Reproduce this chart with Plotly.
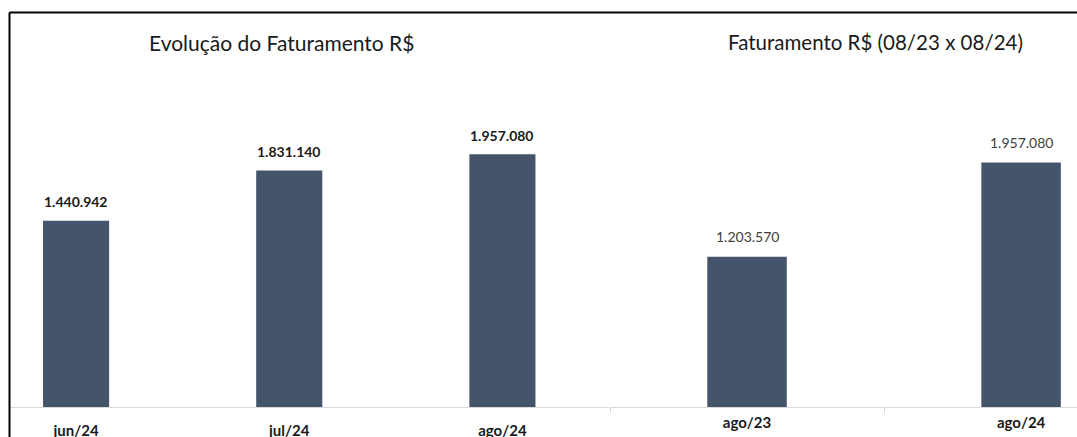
import plotly.graph_objects as go

# ---- data ----
left_categories = ["jun/24", "jul/24", "ago/24"]
left_values = [1440942, 1831140, 1957080]
right_categories = ["ago/23", "ago/24"]
right_values = [1203570, 1957080]
left_title = "Evolução do Faturamento R$"
right_title = "Faturamento R$ (08/23 x 08/24)"

W, H = 1077, 437
FONT = "Lato, Liberation Sans, Arial, sans-serif"
BAR = "#44546A"

def px(x):
    return x / W

def py(y):
    return (H - y) / H

fig = go.Figure()
fig.add_trace(go.Bar(x=left_categories, y=left_values, width=0.31,
                     marker=dict(color=BAR, line=dict(width=0)),
                     xaxis="x", yaxis="y", hoverinfo="x+y"))
fig.add_trace(go.Bar(x=right_categories, y=right_values, width=0.29,
                     marker=dict(color=BAR, line=dict(width=0)),
                     xaxis="x2", yaxis="y2", hoverinfo="x+y"))

annotations = []
for c, v in zip(left_categories, left_values):
    annotations.append(dict(x=c, y=v, xref="x", yref="y", showarrow=False,
                            text="<b>" + f"{v:,}".replace(",", ".") + "</b>",
                            yshift=19, font=dict(family=FONT, size=14, color="#1a1a1a")))
for c, v in zip(right_categories, right_values):
    annotations.append(dict(x=c, y=v, xref="x2", yref="y2", showarrow=False,
                            text=f"{v:,}".replace(",", "."),
                            yshift=20, font=dict(family=FONT, size=14, color="#404040")))
annotations.append(dict(x=px(281), y=py(42), xref="paper", yref="paper", showarrow=False,
                        xanchor="center", yanchor="middle",
                        text=left_title, font=dict(family=FONT, size=21, color="#1a1a1a")))
annotations.append(dict(x=px(875), y=py(42), xref="paper", yref="paper", showarrow=False,
                        xanchor="center", yanchor="middle",
                        text=right_title, font=dict(family=FONT, size=20.5, color="#1a1a1a")))

base = py(407)
fig.update_layout(
    width=W, height=H,
    margin=dict(l=0, r=0, t=0, b=0, autoexpand=False),
    paper_bgcolor="white", plot_bgcolor="white",
    showlegend=False,
    separators=",.",
    annotations=annotations,
    xaxis=dict(domain=[px(10), px(609)], range=[-0.31, 2.5], type="category",
               automargin=False,
               showgrid=False, zeroline=False, showline=True, linecolor="#d9d9d9", linewidth=1,
               ticks="", ticklabelstandoff=10,
               tickfont=dict(family=FONT, size=15, color="#1a1a1a"),
               tickvals=left_categories,
               ticktext=["<b>" + c + "</b>" for c in left_categories]),
    yaxis=dict(domain=[base, 1], range=[0, 407 / 129.2 * 1e6], visible=False,
               automargin=False, showgrid=False, zeroline=False),
    xaxis2=dict(domain=[px(610), 1], range=[-0.5, 1.204], type="category",
                automargin=False,
                showgrid=False, zeroline=False, showline=True, linecolor="#d9d9d9", linewidth=1,
                ticks="outside", tickson="boundaries", ticklen=5, tickcolor="#d9d9d9",
                ticklabelstandoff=2,
                tickfont=dict(family=FONT, size=15, color="#1a1a1a"),
                tickvals=right_categories,
                ticktext=["<b>" + c + "</b>" for c in right_categories]),
    yaxis2=dict(domain=[base, 1], range=[0, 407 / 124.9 * 1e6], visible=False,
                automargin=False, showgrid=False, zeroline=False, anchor="x2"),
    shapes=[
        dict(type="line", xref="paper", yref="paper", x0=px(9.5), x1=1, y0=py(12.5), y1=py(12.5),
             line=dict(color="black", width=2)),
        dict(type="line", xref="paper", yref="paper", x0=px(9.5), x1=px(9.5), y0=py(12.5), y1=0,
             line=dict(color="black", width=2)),
    ],
)

fig.write_html("out.html",
               config={"displayModeBar": False},
               post_script="document.body.style.margin='0';document.body.style.overflow='hidden';")
